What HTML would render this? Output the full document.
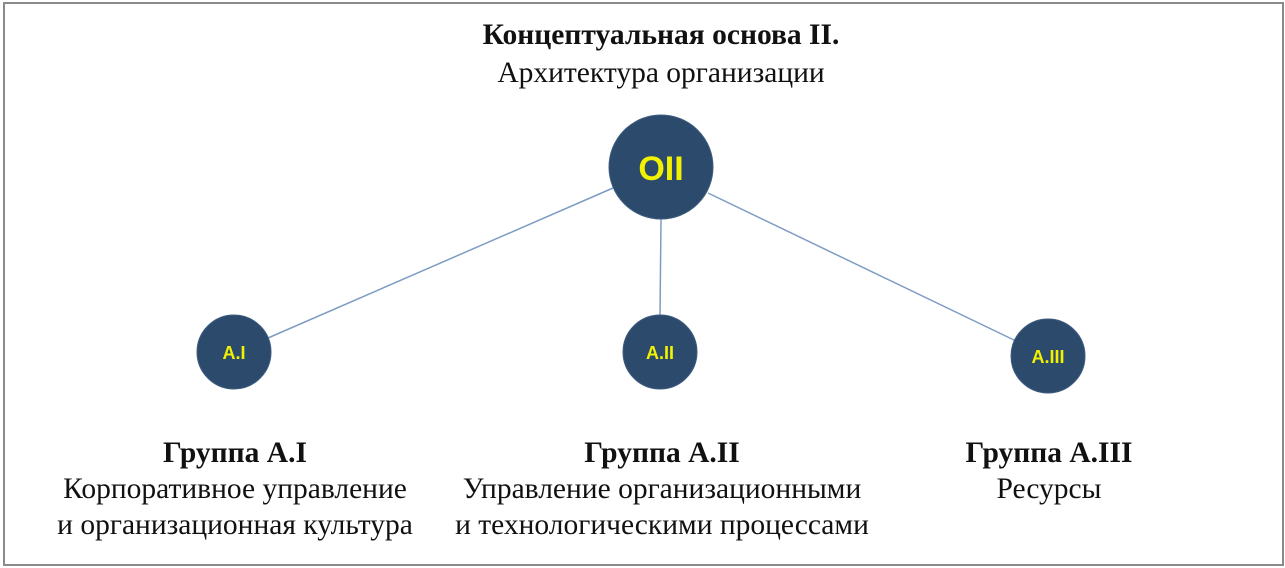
<!DOCTYPE html>
<html><head><meta charset="utf-8"><style>
html,body{margin:0;padding:0;background:#fff;}
body{width:1285px;height:568px;position:relative;overflow:hidden;font-family:"Liberation Serif",serif;}
.frame{position:absolute;left:3px;top:2px;width:1277px;height:560px;border:2px solid #8a8a8a;box-sizing:content-box;}
.t{position:absolute;text-align:center;font-size:29.5px;color:#111;white-space:nowrap;transform:translateX(-50%);line-height:36px;}
b{font-weight:bold;}
</style></head><body>
<div class="frame"></div>
<svg width="1285" height="568" style="position:absolute;left:0;top:0">
<g stroke="#7d9cc2" stroke-width="1.5">
<line x1="613" y1="188" x2="268" y2="338"/>
<line x1="661" y1="219" x2="660" y2="316"/>
<line x1="708" y1="193" x2="1016" y2="341"/>
</g>
<g fill="#2b4a6c" stroke="#3e5d80" stroke-width="1">
<circle cx="661" cy="167" r="52"/>
<circle cx="234" cy="352" r="37"/>
<circle cx="660" cy="352" r="37"/>
<circle cx="1048" cy="356" r="37"/>
</g>
<g fill="#f2f200" font-family="Liberation Sans, sans-serif" font-weight="bold" text-anchor="middle">
<text x="661" y="180" font-size="34">OII</text>
<text x="234" y="359" font-size="18">A.I</text>
<text x="660" y="359" font-size="18">A.II</text>
<text x="1048" y="363" font-size="18">A.III</text>
</g>
</svg>
<div class="t" style="left:661px;top:16px;line-height:38px"><b>Концептуальная основа II.</b><br>Архитектура организации</div>
<div class="t" style="left:235px;top:435px"><b>Группа А.I</b><br>Корпоративное управление<br>и организационная культура</div>
<div class="t" style="left:662px;top:435px"><b>Группа А.II</b><br>Управление организационными<br>и технологическими процессами</div>
<div class="t" style="left:1049px;top:435px"><b>Группа А.III</b><br>Ресурсы</div>
</body></html>
